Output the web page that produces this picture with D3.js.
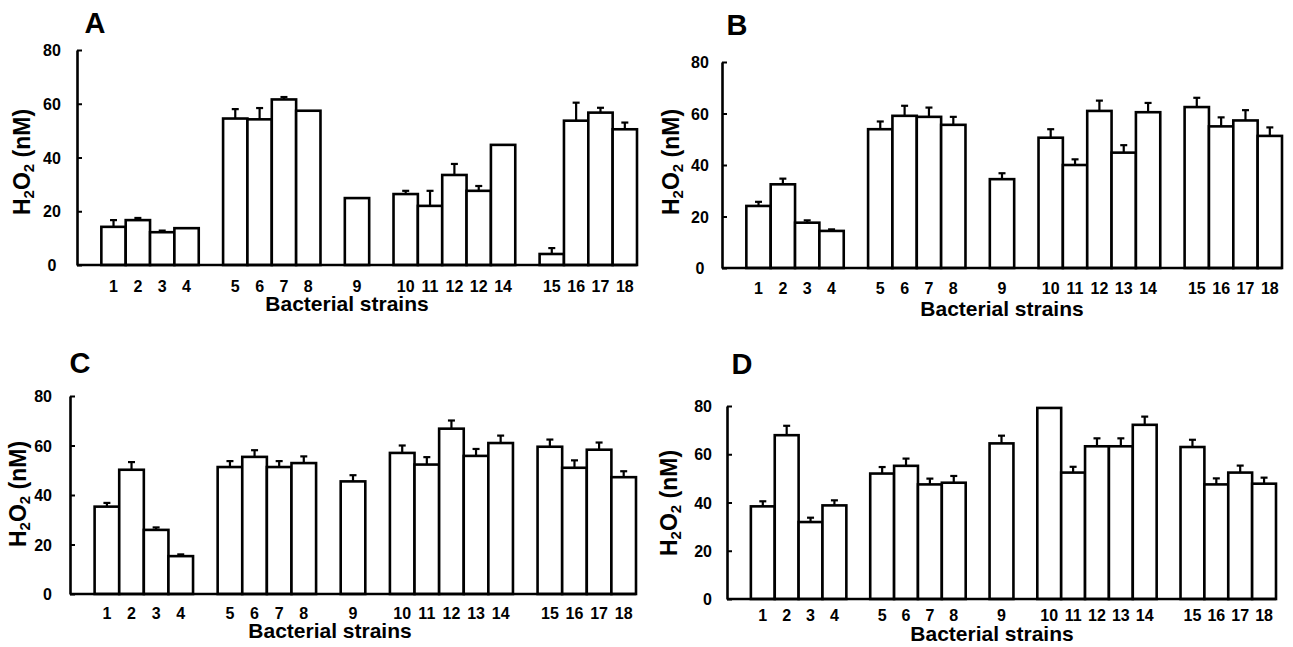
<!DOCTYPE html>
<html>
<head>
<meta charset="utf-8">
<script src="https://cdn.jsdelivr.net/npm/d3@7"></script>
<style>
  body { margin: 0; background: #fff; }
  svg text { font-family: "Liberation Sans", Arial, sans-serif; font-weight: bold; fill: #000; }
</style>
</head>
<body>
<svg id="chart" width="1293" height="647"></svg>
<script>
// strain numbers on the x axis (panel A repeats "12" in the original)
const strains = ["1","2","3","4","5","6","7","8","9","10","11","12","13","14","15","16","17","18"];
const labelsA = ["1","2","3","4","5","6","7","8","9","10","11","12","12","14","15","16","17","18"];
// bars are drawn in groups with one empty slot between them
const groupSizes = [4, 4, 1, 5, 4];
const yTicks = [0, 20, 40, 60, 80];

// H2O2 (nM), mean and upper error
const meanA = [14.2, 16.7, 12.2, 13.7, 54.5, 54.2, 61.6, 57.4, 24.9, 26.4, 22.0, 33.5, 27.6, 44.7, 4.1, 53.7, 56.7, 50.5];
const errA  = [2.5, 0.8, 0.6, 0, 3.5, 4.2, 0.9, 0, 0, 1.2, 5.6, 4.1, 1.8, 0, 2.2, 6.7, 1.8, 2.5];

const meanB = [24.1, 32.5, 17.6, 14.4, 53.9, 59.1, 58.7, 55.6, 34.5, 50.6, 40.0, 61.0, 44.8, 60.5, 62.5, 55.0, 57.3, 51.3];
const errB  = [1.6, 2.2, 0.9, 0.6, 3.0, 3.9, 3.6, 3.1, 2.3, 3.3, 2.2, 4.0, 2.9, 3.6, 3.6, 3.5, 4.0, 3.3];

const meanC = [35.3, 50.2, 25.9, 15.3, 51.3, 55.4, 51.3, 52.9, 45.5, 57.0, 52.3, 66.8, 55.8, 61.0, 59.5, 51.0, 58.3, 47.2];
const errC  = [1.5, 3.1, 1.0, 0.7, 2.4, 2.7, 2.4, 2.7, 2.5, 3.0, 3.0, 3.3, 2.8, 3.0, 2.9, 3.0, 2.9, 2.4];

const meanD = [38.4, 67.9, 31.9, 38.8, 52.0, 55.2, 47.5, 48.2, 64.5, 79.2, 52.4, 63.3, 63.3, 72.2, 63.0, 47.5, 52.4, 47.8];
const errD  = [2.1, 3.9, 1.8, 2.1, 2.7, 3.0, 2.4, 2.8, 3.2, 0, 2.4, 3.3, 3.3, 3.4, 3.0, 2.5, 2.9, 2.5];

// panel layout (pixel positions only)
const panels = [
  {letter: "A", mean: meanA, err: errA, labels: labelsA, left: 77, right: 637, top: 50, bottom: 265,
   letterPos: [95, 23], ylabPos: [22, 162], tickY: 286, titlePos: [347, 304], yLabX: 52, yAnchor: "middle"},
  {letter: "B", mean: meanB, err: errB, labels: strains, left: 722, right: 1282, top: 62, bottom: 268,
   letterPos: [737, 25], ylabPos: [671, 162], tickY: 288, titlePos: [1002, 309], yLabX: 700, yAnchor: "middle"},
  {letter: "C", mean: meanC, err: errC, labels: strains, left: 70, right: 636, top: 396, bottom: 594,
   letterPos: [80, 363], ylabPos: [18, 494], tickY: 613, titlePos: [330, 631], yLabX: 52, yAnchor: "end"},
  {letter: "D", mean: meanD, err: errD, labels: strains, left: 727, right: 1276, top: 406, bottom: 599,
   letterPos: [742, 364], ylabPos: [669, 503], tickY: 615, titlePos: [992, 634], yLabX: 712, yAnchor: "end"}
];

const svg = d3.select("#chart");

// band keys: an empty slot before the first group and between groups
let keys = ["gap0"];
let strainKeys = [];
let n = 0;
groupSizes.forEach((size, g) => {
  if (g > 0) keys.push("gap" + g);
  for (let i = 0; i < size; i++) {
    keys.push("s" + n);
    strainKeys.push("s" + n);
    n++;
  }
});

panels.forEach(p => {
  const g = svg.append("g");

  const x = d3.scaleBand().domain(keys).range([p.left, p.right]).padding(0);
  const y = d3.scaleLinear().domain([0, 80]).range([p.bottom, p.top]);

  // bars
  g.selectAll(".bar")
    .data(p.mean)
    .enter().append("rect")
    .attr("x", (d, i) => x(strainKeys[i]))
    .attr("y", d => y(d))
    .attr("width", x.bandwidth())
    .attr("height", d => y(0) - y(d))
    .attr("fill", "#fff")
    .attr("stroke", "#000")
    .attr("stroke-width", 2.6);

  // upper error bars
  const errs = p.mean.map((m, i) => ({m: m, e: p.err[i], k: strainKeys[i]})).filter(d => d.e > 0);
  const cx = d => x(d.k) + x.bandwidth() / 2;
  g.selectAll(".err")
    .data(errs)
    .enter().append("line")
    .attr("x1", cx).attr("x2", cx)
    .attr("y1", d => y(d.m)).attr("y2", d => y(d.m + d.e))
    .attr("stroke", "#000").attr("stroke-width", 2.2);
  g.selectAll(".cap")
    .data(errs)
    .enter().append("line")
    .attr("x1", d => cx(d) - 3.5).attr("x2", d => cx(d) + 3.5)
    .attr("y1", d => y(d.m + d.e)).attr("y2", d => y(d.m + d.e))
    .attr("stroke", "#000").attr("stroke-width", 2.2);

  // baseline
  g.append("line")
    .attr("x1", p.left).attr("x2", p.right)
    .attr("y1", y(0)).attr("y2", y(0))
    .attr("stroke", "#000").attr("stroke-width", 2.6);

  // y axis
  const yAxis = g.append("g")
    .attr("transform", "translate(" + p.left + ",0)")
    .call(d3.axisLeft(y).tickValues(yTicks).tickSize(-5).tickSizeOuter(0).tickFormat(d3.format("d")));
  yAxis.select(".domain").attr("stroke-width", 2.6);
  yAxis.selectAll(".tick line").attr("stroke-width", 2);
  yAxis.selectAll("text")
    .attr("x", p.yLabX - p.left)
    .attr("dy", "0.35em")
    .attr("text-anchor", p.yAnchor)
    .attr("font-size", 16)
    .attr("font-family", null);

  // x axis labels
  const xAxis = g.append("g")
    .attr("transform", "translate(0," + y(0) + ")")
    .call(d3.axisBottom(x).tickValues(strainKeys).tickSize(0).tickFormat((k, i) => p.labels[i]));
  xAxis.select(".domain").remove();
  xAxis.selectAll("text")
    .attr("y", p.tickY - y(0))
    .attr("dy", "0.35em")
    .attr("font-size", 16)
    .attr("font-family", null);

  // axis title
  g.append("text")
    .attr("x", p.titlePos[0]).attr("y", p.titlePos[1])
    .attr("dy", "0.35em")
    .attr("text-anchor", "middle")
    .attr("font-size", 21)
    .text("Bacterial strains");

  // y label with subscripts
  const yl = g.append("text")
    .attr("transform", "translate(" + p.ylabPos[0] + "," + p.ylabPos[1] + ") rotate(-90)")
    .attr("dy", "0.35em")
    .attr("text-anchor", "middle")
    .attr("font-size", 23);
  yl.append("tspan").text("H");
  yl.append("tspan").attr("font-size", 15).attr("dy", 4).text("2");
  yl.append("tspan").attr("dy", -4).text("O");
  yl.append("tspan").attr("font-size", 15).attr("dy", 4).text("2");
  yl.append("tspan").attr("dy", -4).text(" (nM)");

  // panel letter
  g.append("text")
    .attr("x", p.letterPos[0]).attr("y", p.letterPos[1])
    .attr("dy", "0.35em")
    .attr("text-anchor", "middle")
    .attr("font-size", 29)
    .text(p.letter);
});
</script>
</body>
</html>
